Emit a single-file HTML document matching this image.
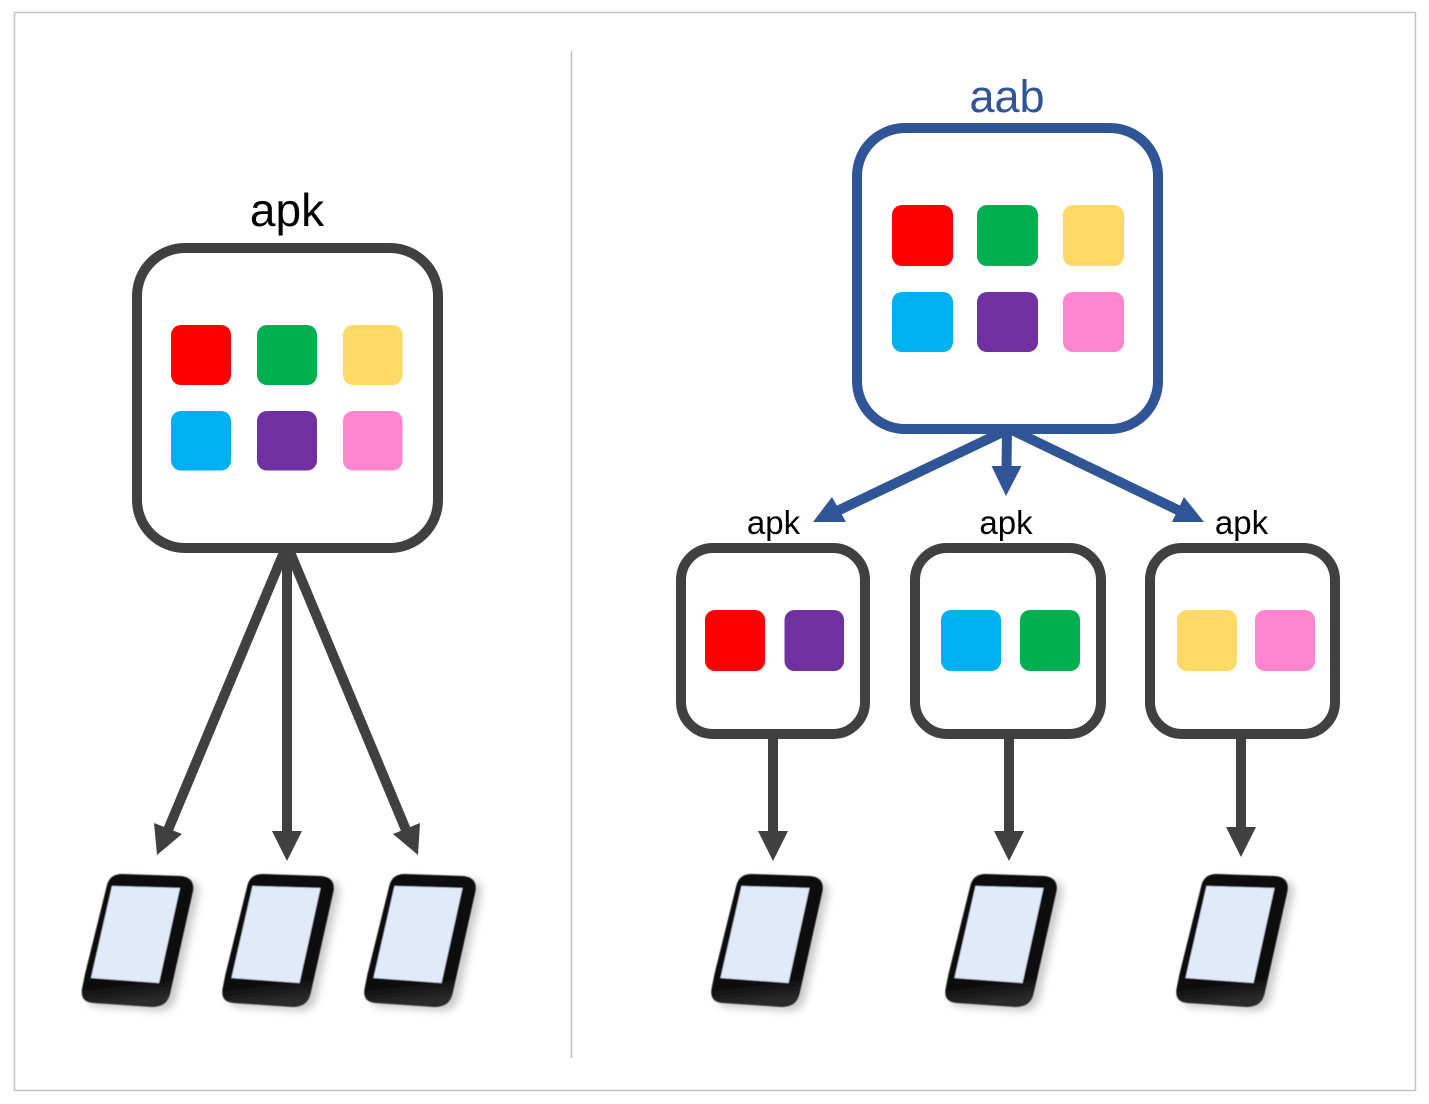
<!DOCTYPE html>
<html>
<head>
<meta charset="utf-8">
<style>
html,body{margin:0;padding:0;background:#fff;width:1429px;height:1104px;overflow:hidden}
svg{display:block}
text{font-family:"Liberation Sans",sans-serif;text-anchor:middle}
</style>
</head>
<body>
<svg width="1429" height="1104" viewBox="0 0 1429 1104" xmlns="http://www.w3.org/2000/svg">
<defs>
<filter id="b" x="-30%" y="-30%" width="160%" height="160%"><feGaussianBlur stdDeviation="4"/></filter>
<filter id="s" x="-10%" y="-10%" width="120%" height="120%"><feGaussianBlur stdDeviation="0.6"/></filter>
<linearGradient id="g" x1="0" y1="0" x2="0.1" y2="1">
<stop offset="0" stop-color="#0a0a0a"/><stop offset="0.85" stop-color="#0d0d0d"/><stop offset="1" stop-color="#2b2b2b"/>
</linearGradient>
<g id="phone">
<path d="M26 9 Q29 0 40 0 L99 2 Q113 3 111 16 L88 121 Q85 133 71 133 L10 129 Q-2 128 0 116 Z" transform="translate(6,4)" fill="#999" opacity=".5" filter="url(#b)"/>
<g filter="url(#s)">
<path d="M25 11 Q28 0 40 0 L98 2 Q113 3 111 17 L88 120 Q85 133 70 133 L11 129 Q-2 128 0 115 L3 100 Z" fill="url(#g)"/>
<path d="M30 12 L98 14 L77 109 L9 104 Z" fill="#e1eafb"/>
</g>
</g>
</defs>

<rect x="14.500" y="12.500" width="1401" height="1078" fill="#fff" stroke="#c4c4c4" stroke-width="1.500"/>
<line x1="571.500" y1="51" x2="571.500" y2="1058" stroke="#bdbdbd" stroke-width="1.500"/>

<!-- left arrows -->
<g stroke="#404040" stroke-width="10" fill="none">
<line x1="287" y1="545" x2="168" y2="830"/>
<line x1="287" y1="545" x2="287" y2="835"/>
<line x1="287" y1="545" x2="406" y2="830"/>
</g>
<g fill="#404040">
<polygon points="154,823 182,834 157,855"/>
<polygon points="272,831 302,831 287,861"/>
<polygon points="420,823 393,834 418,855"/>
</g>

<!-- left apk -->
<text x="287" y="226" font-size="46" fill="#000">apk</text>
<rect x="137" y="248" width="301" height="300" rx="48" fill="#fff" stroke="#404040" stroke-width="10"/>
<rect x="171" y="325" width="60" height="60" rx="10" fill="#ff0000"/>
<rect x="257" y="325" width="60" height="60" rx="10" fill="#00b050"/>
<rect x="343" y="325" width="59.500" height="60" rx="10" fill="#ffd966"/>
<rect x="171" y="411" width="60" height="59.500" rx="10" fill="#00b0f0"/>
<rect x="257" y="411" width="60" height="59.500" rx="10" fill="#7030a0"/>
<rect x="343" y="411" width="59.500" height="59.500" rx="10" fill="#ff85d0"/>

<!-- blue arrows -->
<g stroke="#2f5597" stroke-width="10" fill="none">
<line x1="1007" y1="430" x2="833" y2="513"/>
<line x1="1007" y1="428" x2="1006.500" y2="470"/>
<line x1="1012" y1="430" x2="1184" y2="513"/>
</g>
<g fill="#2f5597">
<polygon points="813,522 832,497 846,522"/>
<polygon points="991.500,466 1021.500,466 1006,496"/>
<polygon points="1204,522 1184,497 1172,522"/>
</g>

<!-- aab -->
<text x="1007" y="112" font-size="45" fill="#2f5597">aab</text>
<rect x="857" y="128" width="301" height="301" rx="48" fill="#fff" stroke="#2f5597" stroke-width="10"/>
<rect x="892" y="205" width="61" height="61" rx="10" fill="#ff0000"/>
<rect x="977" y="205" width="61" height="61" rx="10" fill="#00b050"/>
<rect x="1063" y="205" width="61" height="61" rx="10" fill="#ffd966"/>
<rect x="892" y="292" width="61" height="60" rx="10" fill="#00b0f0"/>
<rect x="977" y="292" width="61" height="60" rx="10" fill="#7030a0"/>
<rect x="1063" y="292" width="61" height="60" rx="10" fill="#ff85d0"/>

<!-- small apks -->
<text x="773.500" y="534" font-size="33" fill="#000">apk</text>
<text x="1006" y="534" font-size="33" fill="#000">apk</text>
<text x="1241.500" y="534" font-size="33" fill="#000">apk</text>

<g fill="#fff" stroke="#404040" stroke-width="10">
<rect x="681" y="548" width="184" height="186" rx="32"/>
<rect x="915" y="548" width="186" height="186" rx="32"/>
<rect x="1150" y="548" width="185" height="186" rx="32"/>
</g>
<rect x="705" y="610" width="60" height="61" rx="10" fill="#ff0000"/>
<rect x="784.500" y="610" width="59.500" height="61" rx="10" fill="#7030a0"/>
<rect x="941" y="610" width="60" height="61" rx="10" fill="#00b0f0"/>
<rect x="1020" y="610" width="60" height="61" rx="10" fill="#00b050"/>
<rect x="1177" y="610" width="60" height="61" rx="10" fill="#ffd966"/>
<rect x="1255" y="610" width="60" height="61" rx="10" fill="#ff85d0"/>

<!-- small arrows -->
<g stroke="#404040" stroke-width="10" fill="none">
<line x1="773" y1="737" x2="773" y2="835"/>
<line x1="1009" y1="737" x2="1009" y2="835"/>
<line x1="1241" y1="737" x2="1241" y2="830"/>
</g>
<g fill="#404040">
<polygon points="758,831 788,831 773,861"/>
<polygon points="994,831 1024,831 1009,861"/>
<polygon points="1226,827 1256,827 1241,857"/>
</g>

<!-- phones -->
<use href="#phone" x="82" y="874"/>
<use href="#phone" x="222.500" y="874"/>
<use href="#phone" x="364.500" y="874"/>
<use href="#phone" x="711.500" y="874"/>
<use href="#phone" x="945.500" y="874"/>
<use href="#phone" x="1176.500" y="874"/>
</svg>
</body>
</html>
